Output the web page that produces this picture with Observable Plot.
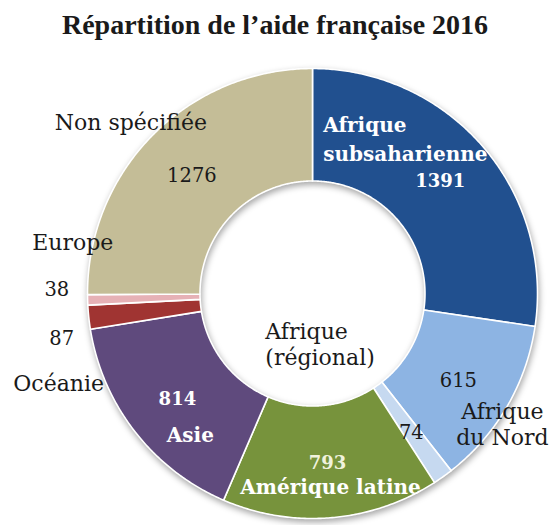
<!DOCTYPE html>
<html>
<head>
<meta charset="utf-8">
<script src="https://cdn.jsdelivr.net/npm/d3@7"></script>
<script src="https://cdn.jsdelivr.net/npm/@observablehq/plot@0.6"></script>
<style>
  html, body { margin: 0; padding: 0; background: #ffffff; }
  body { width: 556px; height: 525px; overflow: hidden; font-family: "Liberation Serif", "DejaVu Serif", serif; }
  #title { height: 50px; box-sizing: border-box; padding-top: 11px; padding-right: 6px; text-align: center;
           font-size: 28px; line-height: 1; font-weight: bold; color: #1a1a1a; white-space: nowrap; }
  #chart svg { display: block; overflow: visible; }
</style>
</head>
<body>
<div id="title">Répartition de l’aide française 2016</div>
<div id="chart"></div>
<script>
// ---- data ----
const regions = ["Afrique subsaharienne", "Afrique du Nord", "Afrique (régional)", "Amérique latine", "Asie", "Océanie", "Europe", "Non spécifiée"];
const nameLabels = ["Afrique\nsubsaharienne", "Afrique\ndu Nord", "Afrique\n(régional)", "Amérique latine", "Asie", "Océanie", "Europe", "Non spécifiée"];
const values = [1391, 615, 74, 793, 814, 87, 38, 1276];

// ---- style / layout (not data) ----
const sliceColors = ["#21508f", "#8db4e3", "#c6d9f0", "#77933c", "#5f4a7d", "#a03432", "#e6b1b6", "#c4bd97"];
const valueColors = ["#ffffff", "#1a1a1a", "#1a1a1a", "#f0f2dc", "#ffffff", "#1a1a1a", "#1a1a1a", "#1a1a1a"];
const nameColors  = ["#ffffff", "#1a1a1a", "#1a1a1a", "#ffffff", "#ffffff", "#1a1a1a", "#1a1a1a", "#1a1a1a"];
const boldText    = [true, false, false, true, true, false, false, false];
// label nudges in px relative to an anchor at 75% of the radius on the slice mid-angle
const valueNudge = [[0, -2], [0, 1], [1, 1], [1, 2], [-2, 2], [-83, 26], [-87, -10], [-1, 0]];
const nameNudge  = [[-117, -46], [44, 45], [-145, -87], [4, 26], [11, 38], [-86, 71], [-71, -57], [-62, -53]];
const nameAnchor = ["start", "middle", "start", "middle", "middle", "middle", "middle", "middle"];

const W = 556, H = 475, R = 225, innerRatio = 0.5;
const margin = {left: 87, right: W - 87 - 2 * R, top: 18, bottom: H - 18 - 2 * R};

// ---- build slices ----
const total = d3.sum(values);
let cum = 0;
const slices = values.map((v, i) => {
  const a0 = cum / total * 2 * Math.PI;
  cum += v;
  const a1 = cum / total * 2 * Math.PI;
  return {i, name: regions[i], value: v, a0, a1, mid: (a0 + a1) / 2};
});
function pt(a, r) { return [r * Math.sin(a), r * Math.cos(a)]; }
const features = slices.map(s => {
  const n = Math.max(2, Math.ceil((s.a1 - s.a0) / (Math.PI / 360)));
  const ring = [];
  for (let k = 0; k <= n; k++) ring.push(pt(s.a0 + (s.a1 - s.a0) * k / n, 1));
  for (let k = n; k >= 0; k--) ring.push(pt(s.a0 + (s.a1 - s.a0) * k / n, innerRatio));
  ring.push(ring[0]);
  return {type: "Feature", properties: {name: s.name, color: sliceColors[s.i]}, geometry: {type: "Polygon", coordinates: [ring]}};
});

const px = 1 / R; // unit per pixel
const labels = [];
slices.forEach(s => {
  const [ax, ay] = pt(s.mid, 0.75);
  labels.push({kind: "value", i: s.i, text: String(s.value),
    x: ax + valueNudge[s.i][0] * px, y: ay - valueNudge[s.i][1] * px,
    fill: valueColors[s.i], bold: boldText[s.i], anchor: "middle",
    size: boldText[s.i] ? 18 : 19.5});
  labels.push({kind: "name", i: s.i, text: nameLabels[s.i],
    x: ax + nameNudge[s.i][0] * px, y: ay - nameNudge[s.i][1] * px,
    fill: nameColors[s.i], bold: boldText[s.i], anchor: nameAnchor[s.i],
    size: boldText[s.i] ? 20 : 22});
});

const font = "DejaVu Serif, serif";
const textMark = (filter, opts) => Plot.text(labels.filter(filter), {
  x: "x", y: "y", text: "text", fill: "fill", fontSize: "size",
  fontFamily: font, ...opts
});

const chart = Plot.plot({
  width: W, height: H,
  marginLeft: margin.left, marginRight: margin.right, marginTop: margin.top, marginBottom: margin.bottom,
  projection: {
    type: "reflect-y",
    domain: {type: "Polygon", coordinates: [[[-1, -1], [1, -1], [1, 1], [-1, 1], [-1, -1]]]},
    clip: false
  },
  color: {type: "identity"},
  marks: [
    Plot.geo(features, {fill: d => d.properties.color, stroke: "white", strokeWidth: 1.6, strokeLinejoin: "round"}),
    textMark(d => d.bold && d.anchor === "middle", {fontWeight: "bold"}),
    textMark(d => d.bold && d.anchor === "start", {fontWeight: "bold", textAnchor: "start", lineHeight: 1.45}),
    textMark(d => !d.bold && d.anchor === "middle", {lineHeight: 1.18}),
    textMark(d => !d.bold && d.anchor === "start", {textAnchor: "start", lineHeight: 1.18})
  ]
});
document.getElementById("chart").appendChild(chart);
const geoG = chart.querySelector('g[aria-label="geo"]');
if (geoG) geoG.style.filter = "drop-shadow(1px 3px 3px rgba(0,0,0,0.35))";
</script>
</body>
</html>
